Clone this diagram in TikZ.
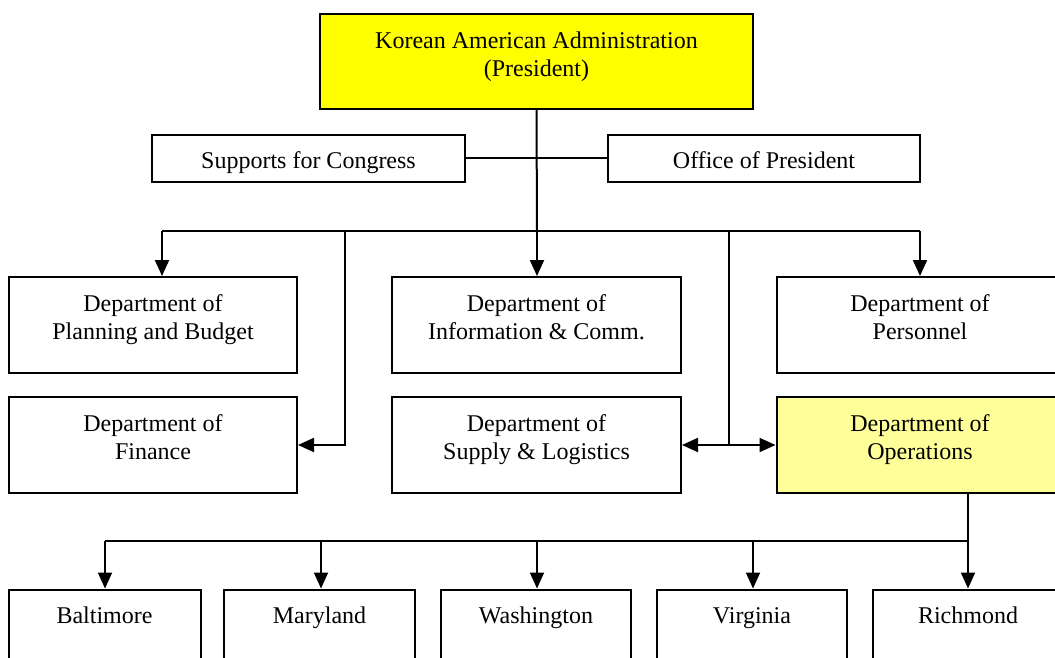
\documentclass[tikz,border=0pt]{standalone}
\usepackage{fontspec}
\setmainfont{Liberation Serif}
\usetikzlibrary{arrows.meta}
\definecolor{presyellow}{HTML}{FFFF00}
\definecolor{opsyellow}{HTML}{FFFF99}
\begin{document}
\begin{tikzpicture}[x=1pt,y=-1pt,line width=2pt,
  box/.style={draw,line width=2pt,rectangle,inner sep=0pt,fill=white},
  lbl/.style={anchor=base,inner sep=0pt,align=center,font=\fontsize{24}{28}\selectfont},
  arr/.style={-{Triangle[length=16pt,width=14pt]}}]
\useasboundingbox (0,0) rectangle (1055,658);
\clip (0,0) rectangle (1055,658);
% boxes
\node[box,fill=presyellow,minimum width=433pt,minimum height=95pt] (pres) at (536.5,61.5) {};
\node[box,minimum width=313pt,minimum height=47pt] (sup) at (308.5,158.5) {};
\node[box,minimum width=312pt,minimum height=47pt] (off) at (764,158.5) {};
\node[box,minimum width=288pt,minimum height=96pt] (plan) at (153,325) {};
\node[box,minimum width=289pt,minimum height=96pt] (info) at (536.5,325) {};
\node[box,minimum width=289pt,minimum height=96pt] (pers) at (921,325) {};
\node[box,minimum width=288pt,minimum height=96pt] (fin) at (153,445) {};
\node[box,minimum width=289pt,minimum height=96pt] (supl) at (536.5,445) {};
\node[box,fill=opsyellow,minimum width=289pt,minimum height=96pt] (ops) at (921,445) {};
\node[box,minimum width=192pt,minimum height=96pt] (balt) at (104.5,637.5) {};
\node[box,minimum width=191pt,minimum height=96pt] (mary) at (319.5,637.5) {};
\node[box,minimum width=190pt,minimum height=96pt] (wash) at (536,637.5) {};
\node[box,minimum width=190pt,minimum height=96pt] (virg) at (752,637.5) {};
\node[box,minimum width=190pt,minimum height=96pt] (rich) at (968,637.5) {};
% labels (base anchor = baseline of the last line)
\node[lbl] (presT) at ([yshift=-64pt]pres.north) {Korean American Administration\\(President)};
\node[lbl] (supT) at ([yshift=-34pt]sup.north) {Supports for Congress};
\node[lbl] (offT) at ([yshift=-34pt]off.north) {Office of President};
\node[lbl] (planT) at ([yshift=-63pt]plan.north) {Department of\\Planning and Budget};
\node[lbl] (infoT) at ([yshift=-63pt]info.north) {Department of\\Information \& Comm.};
\node[lbl] (persT) at ([xshift=-1pt,yshift=-63pt]pers.north) {Department of\\Personnel};
\node[lbl] (finT) at ([yshift=-63pt]fin.north) {Department of\\Finance};
\node[lbl] (suplT) at ([yshift=-63pt]supl.north) {Department of\\Supply \& Logistics};
\node[lbl] (opsT) at ([xshift=-1pt,yshift=-63pt]ops.north) {Department of\\Operations};
\node[lbl] (baltT) at ([yshift=-35pt]balt.north) {Baltimore};
\node[lbl] (maryT) at ([yshift=-35pt]mary.north) {Maryland};
\node[lbl] (washT) at ([yshift=-35pt]wash.north) {Washington};
\node[lbl] (virgT) at ([yshift=-35pt]virg.north) {Virginia};
\node[lbl] (richT) at ([yshift=-35pt]rich.north) {Richmond};
% coordinates
\coordinate (bM) at (537,231);
\coordinate (bL) at (162,231);
\coordinate (bR) at (920,231);
\coordinate (bF) at (345,231);
\coordinate (bS) at (729,231);
\coordinate (oD) at (968,541);
\coordinate (oL) at (105,541);
\coordinate (o2) at (321,541);
\coordinate (o3) at (537,541);
\coordinate (o4) at (753,541);
% connectors
\draw (pres.south) -- (bM);
\draw (sup.east) -- (off.west);
\draw (bL) -- (bR);
\draw[arr] (bL) -- (bL |- plan.north);
\draw[arr] (bM) -- (bM |- info.north);
\draw[arr] (bR) -- (bR |- pers.north);
\draw[arr] (bF) |- (fin.east);
\draw[arr] (bS) |- (supl.east);
\draw[arr] (bS |- ops.west) -- (ops.west);
\draw (ops.south -| oD) -- (oD);
\draw (oL) -- (oD);
\draw[arr] (oL) -- (oL |- balt.north);
\draw[arr] (o2) -- (o2 |- mary.north);
\draw[arr] (o3) -- (o3 |- wash.north);
\draw[arr] (o4) -- (o4 |- virg.north);
\draw[arr] (oD) -- (oD |- rich.north);
\end{tikzpicture}
\end{document}
